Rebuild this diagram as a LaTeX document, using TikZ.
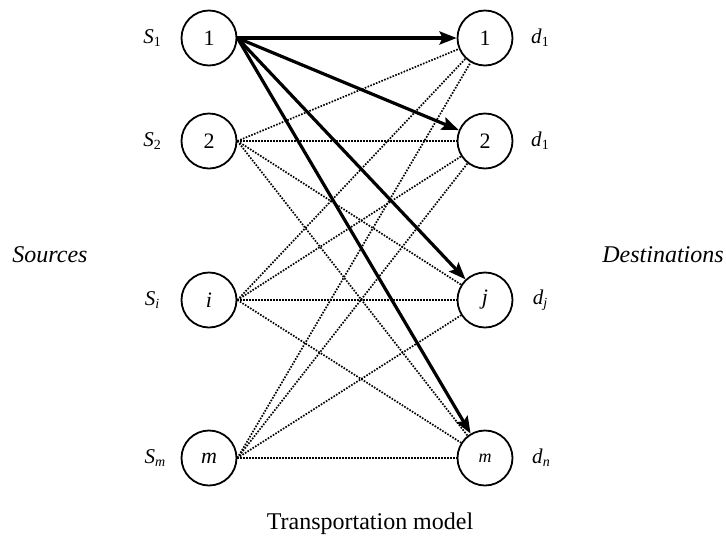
\documentclass[tikz,border=0pt]{standalone}
\usepackage{fontspec}
\setmainfont{Liberation Serif}
\usetikzlibrary{arrows.meta}
\newcommand{\lbl}[2]{\textit{#1}\raisebox{-0.35ex}{\fontsize{14}{16}\selectfont #2}}
\tikzset{
  nd/.style={circle,draw,line width=1.8pt,minimum size=55pt,inner sep=0pt,font=\fontsize{22}{24}\selectfont},
  lab/.style={font=\fontsize{21}{24}\selectfont,inner sep=0pt},
  big/.style={font=\fontsize{24}{28}\selectfont\itshape,inner sep=0pt},
  flow/.style={line width=3.2pt,-{Stealth[length=17pt,width=13pt,inset=3pt]}},
  link/.style={line width=1.7pt,dash pattern=on 1.6pt off 1.4pt}
}
\begin{document}
\begin{tikzpicture}[x=1pt,y=-1pt]
\useasboundingbox (0,0) rectangle (726,539);
% sources
\node[nd] (s1) at (209,38) {1};
\node[nd] (s2) at (209,141) {2};
\node[nd] (si) at (209,300) {\textit{i}};
\node[nd] (sm) at (209,458) {\textit{m}};
% destinations
\node[nd] (d1) at (485,38) {1};
\node[nd] (d2) at (485,141) {2};
\node[nd] (dj) at (485,300) {\textit{j}};
\node[nd,font=\fontsize{18}{20}\selectfont] (dm) at (485,458) {\textit{m}};
% labels
\node[lab] (ls1) at (152,38) {\lbl{S}{1}};
\node[lab] (ls2) at (152,141) {\lbl{S}{2}};
\node[lab] (lsi) at (152,300) {\lbl{S}{\textit{i}}};
\node[lab] (lsm) at (155,458) {\lbl{S}{\textit{m}}};
\node[lab] (ld1) at (540,38) {\lbl{d}{1}};
\node[lab] (ld2) at (540,141) {\lbl{d}{1}};
\node[lab] (ldj) at (540,300) {\lbl{d}{\textit{j}}};
\node[lab] (ldn) at (541,458) {\lbl{d}{\textit{n}}};
\node[big] (src) at (50,255) {Sources};
\node[big] (dst) at (663,255) {Destinations};
\node[inner sep=0pt,font=\fontsize{24}{28}\selectfont] (cap) at (370,524) {Transportation model};
% dotted links
\foreach \s in {s2,si,sm}{
  \foreach \d in {d1,d2,dj,dm}{
    \draw[link] (\s.east) -- (\d);
  }
}
% solid flows
\foreach \d in {d1,d2,dj,dm}{
  \draw[flow] (s1.east) -- (\d);
}
\end{tikzpicture}
\end{document}
